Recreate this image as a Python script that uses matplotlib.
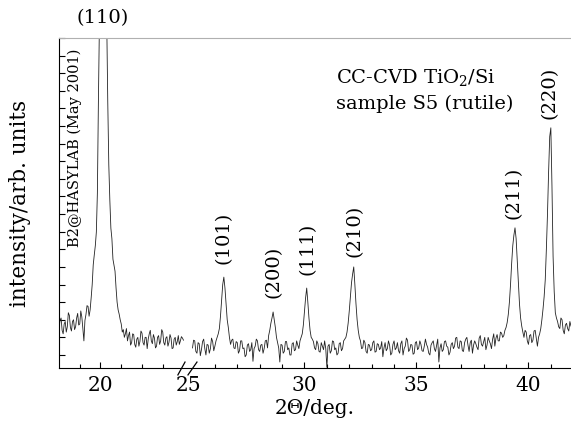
import numpy as np
import matplotlib
matplotlib.use("Agg")
import matplotlib.pyplot as plt
import matplotlib.transforms as mtransforms

plt.rcParams['font.family'] = ['DejaVu Serif']
plt.rcParams['mathtext.fontset'] = 'dejavuserif'

# 2theta grid step 0.05 deg, two pieces (axis is broken between 24 and 25)
# each row below = 0.5 deg
x_left0, x_right0, step = 18.0, 25.0, 0.05
y_left = [175, 198, 205, 170, 160, 188, 195, 165, 180, 220,
          212, 178, 168, 195, 200, 172, 180, 205, 218, 185,
          188, 225, 208, 175, 140, 198, 215, 240, 238, 210,
          228, 262, 300, 356, 384, 410, 449, 560, 824, 1050,
          1250, 1420, 1500, 1480, 1450, 1300, 1050, 820, 640, 540,
          460, 430, 372, 355, 338, 290, 250, 228, 216, 200,
          188, 165, 172, 150, 160, 175, 140, 155, 165, 128,
          135, 160, 158, 130, 122, 145, 150, 125, 138, 168,
          162, 135, 128, 150, 150, 118, 145, 160, 170, 140,
          132, 158, 148, 120, 125, 150, 155, 130, 140, 172,
          165, 135, 128, 148, 152, 125, 136, 158, 148, 118,
          120, 145, 150, 128, 138, 155, 130, 140, 152, 148,
          142]
y_right = [120, 142, 140, 110, 105, 135, 132, 98, 115, 138,
           145, 118, 100, 130, 128, 105, 118, 148, 138, 112,
           125, 140, 150, 160, 175, 210, 255, 300, 321, 290,
           245, 200, 178, 150, 130, 142, 145, 120, 118, 138,
           135, 105, 112, 140, 140, 118, 120, 95, 100, 128,
           132, 110, 115, 135, 82, 118, 125, 145, 140, 115,
           110, 128, 130, 105, 118, 140, 142, 120, 155, 170,
           190, 205, 222, 200, 178, 150, 135, 120, 80, 130,
           128, 105, 110, 138, 138, 115, 120, 100, 100, 132,
           135, 112, 115, 140, 128, 118, 140, 150, 160, 185,
           225, 262, 290, 250, 205, 170, 150, 145, 138, 120,
           115, 140, 132, 110, 108, 135, 125, 115, 140, 118,
           65, 125, 130, 105, 112, 140, 138, 115, 120, 100,
           105, 132, 135, 112, 118, 140, 145, 150, 165, 190,
           225, 265, 305, 330, 350, 300, 245, 200, 170, 150,
           140, 118, 120, 142, 135, 110, 105, 130, 128, 112,
           115, 135, 140, 108, 110, 132, 130, 115, 120, 138,
           95, 120, 135, 112, 118, 140, 128, 100, 105, 130,
           140, 115, 120, 135, 112, 105, 132, 140, 100, 118,
           125, 148, 142, 110, 115, 130, 128, 102, 105, 135,
           138, 115, 120, 140, 130, 112, 110, 125, 145, 130,
           122, 105, 100, 128, 135, 140, 118, 110, 128, 145,
           80, 120, 132, 110, 115, 138, 140, 125, 122, 100,
           108, 130, 135, 118, 125, 148, 150, 122, 118, 140,
           138, 112, 110, 135, 145, 150, 128, 110, 135, 142,
           105, 128, 140, 132, 122, 115, 148, 155, 130, 125,
           138, 150, 115, 128, 150, 140, 132, 118, 145, 160,
           125, 148, 158, 140, 140, 165, 162, 150, 155, 170,
           178, 192, 215, 250, 300, 360, 410, 440, 461, 430,
           370, 310, 245, 205, 182, 165, 150, 170, 165, 140,
           130, 155, 158, 135, 142, 168, 170, 148, 125, 150,
           160, 175, 200, 230, 265, 313, 400, 500, 620, 720,
           745, 580, 380, 280, 220, 205, 195, 180, 175, 205,
           200, 170, 160, 185, 190, 175, 168, 195, 182]

peak_labels = ['(101)', '(200)', '(111)', '(210)', '(211)', '(220)']
peak_pos = [26.4, 28.6, 30.15, 32.25, 39.35, 40.95]
label_y = [432, 336, 401, 452, 560, 844]

x_left = x_left0 + step * np.arange(len(y_left))
x_right = x_right0 + step * np.arange(len(y_right))


# piecewise axis: 18-24 and 25-42 with a squeezed gap
def fwd(x):
    x = np.asarray(x, dtype=float)
    return np.where(x <= 24, (x - 18) * 20.75,
                    np.where(x < 25, 124.5 + (x - 24) * 9.0,
                             133.5 + (x - 25) * 22.4))


def inv(u):
    u = np.asarray(u, dtype=float)
    return np.where(u <= 124.5, 18 + u / 20.75,
                    np.where(u < 133.5, 24 + (u - 124.5) / 9.0,
                             25 + (u - 133.5) / 22.4))


fig = plt.figure(figsize=(5.71, 4.30), dpi=100)
ax = fig.add_axes([59 / 571, 62 / 430, 512 / 571, 330 / 430])
ax.set_xscale('function', functions=(fwd, inv))

ax.plot(x_left, y_left, color='#222222', lw=0.6)
ax.plot(x_right, y_right, color='#222222', lw=0.6)

ax.set_xlim(18.0, 41.9)
ax.set_ylim(63, 1000)

ax.set_xticks([20, 24.6, 30, 35, 40])
ax.set_xticklabels(['20', '25', '30', '35', '40'])
ax.set_xticks([19, 21, 22, 23, 26, 27, 28, 29, 31, 32, 33, 34,
               36, 37, 38, 39, 41], minor=True)
ax.xaxis.get_major_ticks()[1].tick1line.set_visible(False)
ax.set_yticks(np.arange(100, 1001, 50))
ax.set_yticklabels([])
ax.tick_params(axis='both', which='both', direction='in', top=False,
               right=False, width=0.8, labelsize=14.5, pad=6)
ax.tick_params(which='major', length=4)
ax.tick_params(which='minor', length=3)

ax.spines['right'].set_visible(False)
ax.spines['top'].set_color('#b0b0b0')

ax.set_xlabel('2Θ/deg.', fontsize=14.5, labelpad=3)
ax.set_ylabel('intensity/arb. units', fontsize=15.5, labelpad=14)

# axis break marks
trans = mtransforms.blended_transform_factory(ax.transData, ax.transAxes)
ax.plot([23.73, 24.17], [-0.021, 0.018], color='k', lw=0.9,
        transform=trans, clip_on=False)
ax.plot([24.5, 25.2], [-0.021, 0.018], color='k', lw=0.9,
        transform=trans, clip_on=False)

ax.text(20.1, 1.06, '(110)', transform=trans, ha='center', va='center',
        fontsize=14, clip_on=False)
for lab, xp, yp in zip(peak_labels, peak_pos, label_y):
    ax.text(xp, yp, lab, rotation=90, ha='center', va='center', fontsize=14)

ax.text(18.78, 688, 'B2@HASYLAB (May 2001)', rotation=90, ha='center',
        va='center', fontsize=10.5)
ax.text(0.541, 0.879, r'CC-CVD TiO$_2$/Si', transform=ax.transAxes,
        ha='left', va='center', fontsize=14)
ax.text(0.541, 0.80, 'sample S5 (rutile)', transform=ax.transAxes,
        ha='left', va='center', fontsize=14)

fig.savefig('out.png', dpi=100)
